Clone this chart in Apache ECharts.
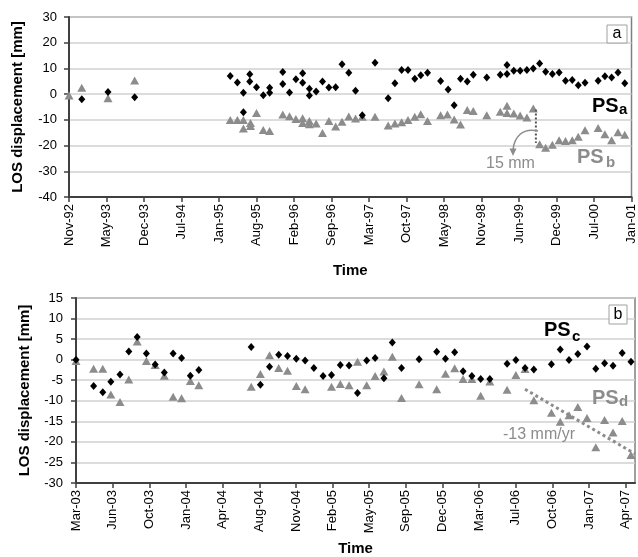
<!DOCTYPE html>
<html><head><meta charset="utf-8">
<script src="https://cdn.jsdelivr.net/npm/echarts@6/dist/echarts.min.js"></script>
<style>html,body{margin:0;padding:0;background:#fff}#c{width:638px;height:557px}</style>
</head><body><div id="c"></div>
<script>
// Tick labels (equally spaced date ticks, index 0..15)
const topTickLabels = ['Nov-92','May-93','Dec-93','Jul-94','Jan-95','Aug-95','Feb-96','Sep-96','Mar-97','Oct-97','May-98','Nov-98','Jun-99','Dec-99','Jul-00','Jan-01'];
const botTickLabels = ['Mar-03','Jun-03','Oct-03','Jan-04','Apr-04','Aug-04','Nov-04','Feb-05','May-05','Sep-05','Dec-05','Mar-06','Jul-06','Oct-06','Jan-07','Apr-07'];

// Panel a: [tick-index position, LOS displacement mm]
const psA = [[0.34,-2],[1.04,0.8],[1.75,-1.2],
[4.30,7.1],[4.49,4.5],[4.65,0.5],[4.65,-7.0],[4.82,7.7],[4.82,4.9],[5.0,2.7],[5.18,-0.4],[5.35,2.5],[5.35,0.5],[5.70,8.6],[5.70,3.9],[5.88,0.6],[6.05,5.8],[6.23,8.1],[6.23,4.4],[6.41,2.1],[6.41,-0.5],[6.59,1.0],[6.76,4.9],[6.93,2.6],[7.11,2.7],[7.28,11.6],[7.46,8.3],[7.64,1.3],[7.82,-8.2],[8.16,12.2],[8.51,-1.6],[8.69,4.2],[8.87,9.4],[9.04,9.4],[9.22,6.0],[9.38,7.3],[9.56,8.3],[9.91,5.1],[10.11,1.8],[10.27,-4.3],[10.44,6.0],[10.62,4.9],[10.78,7.5],[11.14,6.5],[11.50,7.5],[11.68,11.3],[11.68,7.8],[11.86,9.1],[12.03,9.1],[12.21,9.4],[12.38,10.0],[12.55,11.9],[12.71,8.7],[12.89,7.8],[13.07,8.4],[13.24,5.2],[13.42,5.5],[13.58,3.5],[13.76,4.4],[14.11,5.2],[14.29,7.0],[14.47,6.5],[14.64,8.4],[14.82,4.2]];
const psB = [[0,-0.5],[0.34,2.5],[1.04,-1.6],[1.75,5.3],
[4.30,-10.1],[4.49,-10.1],[4.65,-10.1],[4.65,-13.4],[4.84,-11.2],[4.84,-12.4],[5.0,-7.3],[5.18,-13.9],[5.35,-14.3],[5.70,-7.9],[5.88,-8.6],[6.05,-9.7],[6.23,-9.4],[6.23,-11.2],[6.41,-10.4],[6.41,-11.7],[6.59,-11.4],[6.76,-15.1],[6.93,-10.4],[7.11,-12.6],[7.28,-10.7],[7.46,-8.7],[7.64,-9.5],[7.82,-8.8],[8.16,-8.8],[8.51,-12.2],[8.69,-11.4],[8.87,-10.9],[9.04,-10.1],[9.22,-8.8],[9.38,-7.8],[9.56,-10.4],[9.91,-8.2],[10.09,-7.9],[10.27,-9.9],[10.44,-11.8],[10.62,-6.2],[10.78,-6.6],[11.14,-8.2],[11.50,-6.8],[11.68,-4.5],[11.68,-7.3],[11.86,-7.5],[12.03,-8.3],[12.21,-9.1],[12.38,-5.6],[12.55,-19.5],[12.71,-20.8],[12.89,-19.7],[13.07,-17.9],[13.24,-18.2],[13.42,-17.9],[13.58,-16.6],[13.76,-14.0],[14.11,-13.2],[14.29,-15.6],[14.47,-17.9],[14.64,-14.8],[14.82,-15.8]];
const stepLine = [[12.45,-6.0],[12.45,-19.0]];

// Panel b
const psC = [[0,0],[0.48,-6.4],[0.73,-7.9],[0.95,-5.4],[1.2,-3.6],[1.44,2.0],[1.67,5.5],[1.92,1.5],[2.16,-1.2],[2.41,-3.1],[2.65,1.5],[2.88,0.4],[3.12,-3.9],[3.35,-2.5],[4.78,3.1],[5.03,-6.1],[5.28,-1.7],[5.53,1.2],[5.77,0.9],[6.01,0.2],[6.25,-0.2],[6.49,-2.0],[6.74,-4.0],[6.97,-3.7],[7.21,-1.3],[7.45,-1.4],[7.68,-8.1],[7.93,-0.2],[8.16,0.4],[8.40,-4.5],[8.63,4.2],[8.88,-2.0],[9.36,0.1],[9.84,1.9],[10.08,0.2],[10.33,1.8],[10.56,-2.8],[10.80,-4.0],[11.04,-4.7],[11.29,-4.7],[11.76,-1.0],[12.0,-0.1],[12.25,-2.0],[12.49,-2.4],[12.97,-1.1],[13.21,2.5],[13.45,-0.1],[13.69,1.4],[13.94,3.2],[14.18,-2.2],[14.42,-0.9],[14.65,-1.5],[14.90,1.6],[15.14,-0.5]];
const psD = [[0,-0.3],[0.48,-2.2],[0.73,-2.2],[0.95,-8.5],[1.2,-10.3],[1.44,-4.8],[1.67,4.4],[1.92,-0.3],[2.16,-1.3],[2.41,-3.9],[2.65,-9.0],[2.88,-9.4],[3.12,-5.2],[3.35,-6.2],[4.78,-6.6],[5.03,-3.5],[5.28,1.1],[5.53,-2.0],[5.77,-2.7],[6.01,-6.4],[6.25,-7.2],[6.97,-6.6],[7.21,-5.9],[7.45,-6.2],[7.68,-0.5],[7.93,-6.2],[8.16,-4.0],[8.40,-2.9],[8.63,0.7],[8.88,-9.3],[9.36,-6.0],[9.84,-7.2],[10.08,-3.4],[10.33,-2.1],[10.56,-4.7],[10.80,-4.7],[11.04,-8.8],[11.29,-5.3],[11.76,-7.3],[12.0,-3.7],[12.25,-2.3],[12.49,-9.9],[12.97,-12.9],[13.21,-15.1],[13.45,-13.5],[13.69,-11.5],[13.94,-14.2],[14.18,-21.3],[14.42,-14.7],[14.65,-17.7],[14.90,-14.9],[15.14,-23.2]];
const trendLine = [[12.25,-7.2],[15.25,-22.9]];

const FONT = '"Liberation Sans", Arial, sans-serif';
const GRAY = '#8c8c8c';
const AX = '#404040';
const tickIdx = topTickLabels.map((_, i) => i);

function xAx(grid, max, labels, gap) {
  return {
    gridIndex: grid, type: 'value', min: 0, max: max, interval: 1,
    axisLine: {show: true, onZero: false, lineStyle: {color: AX, width: 2}},
    axisTick: {show: true, customValues: tickIdx, length: 5, lineStyle: {color: AX, width: 1.5}},
    axisLabel: {customValues: tickIdx, rotate: 90, fontSize: 13, color: '#000', fontFamily: FONT, margin: 7,
      formatter: v => labels[Math.round(v)] || ''},
    splitLine: {show: false},
    name: 'Time', nameLocation: 'middle', nameGap: gap,
    nameTextStyle: {fontWeight: 'bold', fontSize: 15, color: '#000', fontFamily: FONT}
  };
}
function yAx(grid, min, max, interval, margin) {
  return {
    gridIndex: grid, type: 'value', min: min, max: max, interval: interval,
    axisLine: {show: true, onZero: false, lineStyle: {color: AX, width: 2}},
    axisTick: {show: true, length: 5, lineStyle: {color: AX, width: 1.5}},
    axisLabel: {fontSize: 13, color: '#000', fontFamily: FONT, margin: margin},
    splitLine: {show: true, lineStyle: {color: '#d0d0d0', width: 1.5}},
    name: 'LOS displacement [mm]', nameLocation: 'middle', nameGap: 44,
    nameTextStyle: {fontWeight: 'bold', fontSize: 15, color: '#000', fontFamily: FONT}
  };
}
function sc(data, xi, sym, size, color) {
  return {type: 'scatter', xAxisIndex: xi, yAxisIndex: xi, data: data, symbol: sym, symbolSize: size,
    itemStyle: {color: color, opacity: 1}, silent: true, animation: false};
}
function ln(data, xi, color, width, type) {
  return {type: 'line', xAxisIndex: xi, yAxisIndex: xi, data: data, symbol: 'none', silent: true, animation: false,
    lineStyle: {color: color, width: width, type: type}, clip: true};
}
function txt(x, y, s, size, color, bold) {
  return {type: 'text', x: x, y: y, silent: true, z: 100,
    style: {text: s, fontSize: size, fontFamily: FONT, fontWeight: bold ? 'bold' : 'normal', fill: color, verticalAlign: 'middle', align: 'left'}};
}

const chart = echarts.init(document.getElementById('c'), null, {renderer: 'canvas'});
chart.setOption({
  backgroundColor: '#fff',
  animation: false,
  grid: [
    {left: 69, top: 17, width: 566, height: 180, show: true, borderColor: '#808080', borderWidth: 1.5, containLabel: false},
    {left: 76, top: 298, width: 559, height: 185, show: true, borderColor: '#808080', borderWidth: 1.5, containLabel: false}
  ],
  xAxis: [xAx(0, 15, topTickLabels, 66), xAx(1, 15.25, botTickLabels, 58)],
  yAxis: [yAx(0, -40, 30, 10, 12), yAx(1, -30, 15, 5, 13)],
  series: [
    sc(psB, 0, 'triangle', [9, 8], GRAY),
    sc(psA, 0, 'diamond', [7, 8], '#000'),
    ln(stepLine, 0, '#555', 2, 'dotted'),
    sc(psD, 1, 'triangle', [9, 8], GRAY),
    sc(psC, 1, 'diamond', [7, 8], '#000'),
    ln(trendLine, 1, GRAY, 3, 'dotted')
  ],
  graphic: [
    {type: 'rect', shape: {x: 607, y: 25, width: 20, height: 18}, style: {fill: '#fff', stroke: '#a0a0a0', lineWidth: 1}, z: 100},
    {type: 'text', x: 617, y: 34, style: {text: 'a', fontSize: 16, fontFamily: FONT, fill: '#000', align: 'center', verticalAlign: 'middle'}, z: 101},
    {type: 'rect', shape: {x: 609, y: 305, width: 18, height: 19}, style: {fill: '#fff', stroke: '#a0a0a0', lineWidth: 1}, z: 100},
    {type: 'text', x: 618, y: 314.5, style: {text: 'b', fontSize: 16, fontFamily: FONT, fill: '#000', align: 'center', verticalAlign: 'middle'}, z: 101},
    txt(592, 106, 'PS', 20, '#000', true),
    txt(619, 110, 'a', 15, '#000', true),
    txt(577, 157, 'PS', 20, GRAY, true),
    txt(606, 163, 'b', 15, GRAY, true),
    txt(544, 330.5, 'PS', 20, '#000', true),
    txt(572, 337, 'c', 15, '#000', true),
    txt(592, 398, 'PS', 20, GRAY, true),
    txt(619, 402, 'd', 15, GRAY, true),
    txt(486, 163.5, '15 mm', 16, GRAY, false),
    txt(503, 434.5, '-13 mm/yr', 16, GRAY, false),
    {type: 'bezierCurve', shape: {x1: 538, y1: 131, cpx1: 522, cpy1: 127, cpx2: 514, cpy2: 138, x2: 513, y2: 150},
      style: {stroke: GRAY, lineWidth: 1.5, fill: null}, z: 100, silent: true},
    {type: 'polygon', shape: {points: [[513, 156], [509.5, 148.5], [516.5, 148.5]]}, style: {fill: GRAY}, z: 100, silent: true}
  ]
});
</script>
</body></html>
